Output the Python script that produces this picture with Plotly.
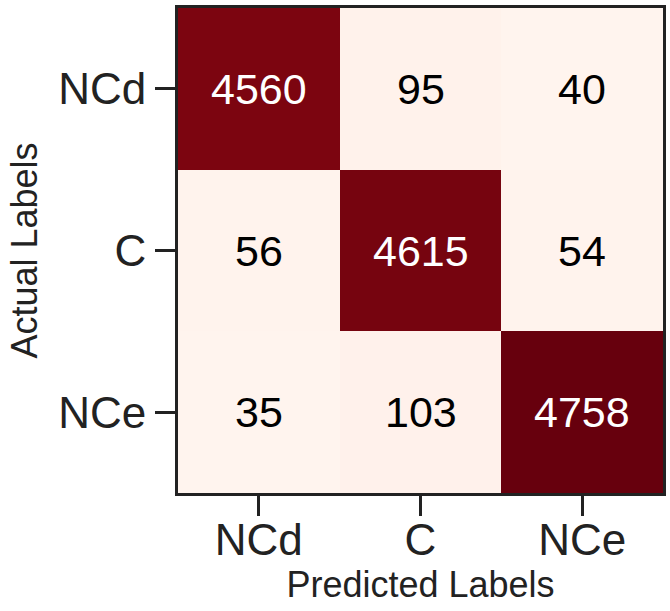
import plotly.graph_objects as go

labels = ["NCd", "C", "NCe"]
matrix = [
    [4560, 95, 40],
    [56, 4615, 54],
    [35, 103, 4758],
]

text_colors = [["white" if v > 2400 else "black" for v in row] for row in matrix]

fig = go.Figure()
fig.add_trace(go.Heatmap(
    z=matrix, x=labels, y=labels,
    colorscale="Reds", showscale=False,
    zmin=0, zmax=4758,
    hoverinfo="skip",
))

annotations = []
for i, row in enumerate(matrix):
    for j, v in enumerate(row):
        annotations.append(dict(
            x=labels[j], y=labels[i], text=str(v), showarrow=False,
            font=dict(size=43, color=text_colors[i][j], family="Liberation Sans, Arial"),
        ))

fig.update_layout(
    width=670, height=611,
    margin=dict(l=178, r=7, t=8, b=118, autoexpand=False),
    paper_bgcolor="white", plot_bgcolor="white",
    font=dict(family="Liberation Sans, Arial", color="#222"),
    annotations=annotations,
)
fig.update_xaxes(
    title=dict(text="Predicted Labels", font=dict(size=36), standoff=10),
    tickfont=dict(size=44), ticks="outside", ticklen=20, tickwidth=3, tickcolor="#222",
    ticklabelstandoff=-14,
    showline=True, linewidth=3, linecolor="#222", mirror=True,
)
fig.update_yaxes(
    title=dict(text="Actual Labels", font=dict(size=36), standoff=10),
    tickfont=dict(size=44), ticks="outside", ticklen=20, tickwidth=3, tickcolor="#222",
    showline=True, linewidth=3, linecolor="#222", mirror=True,
    autorange="reversed",
)

fig.write_html(
    "out.html",
    config={"displayModeBar": False},
    post_script="document.body.style.margin='0';document.body.style.padding='0';",
)
